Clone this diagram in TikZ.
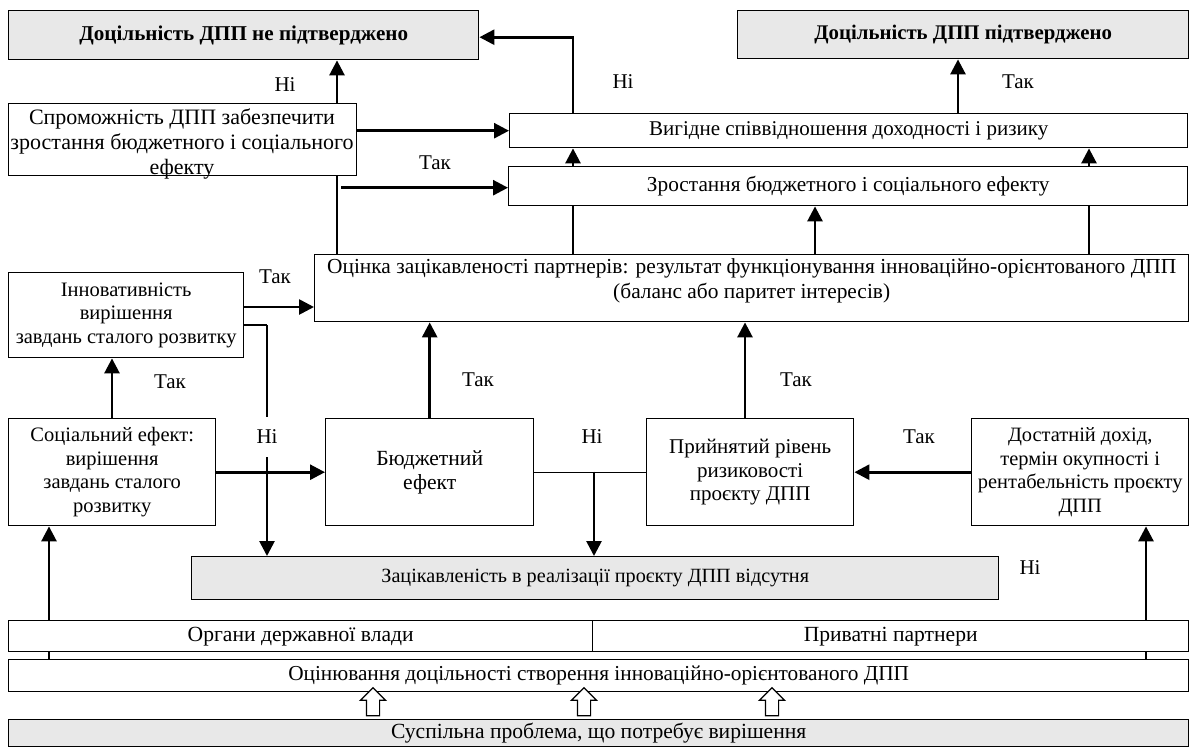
\documentclass[tikz,border=0pt]{standalone}
\usepackage{fontspec}
\setmainfont{Liberation Serif}
\usetikzlibrary{arrows.meta,shapes.arrows,calc}
\definecolor{boxgray}{RGB}{232,232,232}
\begin{document}
\begin{tikzpicture}[x=1pt,y=-1pt,
  font=\fontsize{21.3}{23.7}\selectfont,
  box/.style={draw, line width=1.4pt, inner sep=0pt, align=center, anchor=north west, fill=white},
  gbox/.style={fill=boxgray},
  fsm/.style={font=\fontsize{20.5}{23.7}\selectfont},
  arr/.style={line width=2.7pt, -{Triangle[length=15pt,width=15pt]}},
  ln/.style={line width=2.7pt},
  thinln/.style={line width=1.3pt},
  lbl/.style={inner sep=1pt, font=\fontsize{21}{24}\selectfont},
  harrow/.style={single arrow, draw, line width=1.2pt, fill=white, rotate=90,
    minimum height=28pt, inner xsep=0pt, inner ysep=6pt, single arrow head extend=6pt,
    single arrow head indent=0pt}]
\useasboundingbox (0,0) rectangle (1192,753);
% boxes
\node[box, gbox, minimum width=470pt, minimum height=49pt, font=\fontsize{21.1}{24}\selectfont] (notconf) at (8,10) {\textbf{Доцільність ДПП не підтверджено}};
\node[box, gbox, minimum width=451pt, minimum height=48pt, font=\fontsize{20.8}{24}\selectfont] (conf) at (737,10) {\textbf{Доцільність ДПП підтверджено}};
\node[box, minimum width=348pt, minimum height=72pt] (sprom) at (8,103) {};
\node[align=center, inner sep=0pt, font=\fontsize{22}{25}\selectfont] (spromtxt) at (182,144) {Спроможність ДПП забезпечити\\зростання бюджетного і соціального\\ефекту};
\node[box, minimum width=678pt, minimum height=34pt, font=\fontsize{21}{24}\selectfont] (vyg) at (509,113) {Вигідне співвідношення доходності і ризику};
\node[box, minimum width=679pt, minimum height=39pt] (zrost) at (508,166) {Зростання бюджетного і соціального ефекту};
\node[box, minimum width=874pt, minimum height=67pt, font=\fontsize{21.4}{25}\selectfont, text depth=19pt] (otsin) at (314,254) {Оцінка зацікавленості партнерів: результат функціонування інноваційно-орієнтованого ДПП\\(баланс або паритет інтересів)};
\node[box, fsm, minimum width=235pt, minimum height=85pt] (innov) at (8,272) {Інноватив{}ність\\вирішення\\завдань сталого розвитку};
\node[box, fsm, minimum width=207pt, minimum height=107pt] (social) at (8,418) {Соціальний ефект:\\вирішення\\завдань сталого\\розвитку};
\node[box, minimum width=208pt, minimum height=107pt, font=\fontsize{21.6}{23.7}\selectfont] (budg) at (325,418) {Бюджетний\\ефект};
\node[box, font=\fontsize{21}{23.7}\selectfont, minimum width=207pt, minimum height=107pt] (pryin) at (646,418) {Прийнятий рівень\\ризиковості\\проєкту ДПП};
\node[box, font=\fontsize{20.4}{23.7}\selectfont, minimum width=217pt, minimum height=107pt] (dost) at (971,418) {Достатній дохід,\\термін окупності і\\рентабельність проєкту\\ДПП};
\node[box, gbox, font=\fontsize{20.2}{24}\selectfont, minimum width=807pt, minimum height=43pt] (zatsik) at (191,556) {Зацікавленість в реалізації проєкту ДПП відсутня};
\node[box, font=\fontsize{21.6}{24}\selectfont, minimum width=584pt, minimum height=31pt] (organy) at (8,620) {Органи державної влади};
\node[box, font=\fontsize{21.6}{24}\selectfont, minimum width=596pt, minimum height=31pt] (pryv) at (592,620) {Приватні партнери};
\node[box, minimum width=1180pt, minimum height=32pt] (otsinyuv) at (8,659) {Оцінювання доцільності створення інноваційно-орієнтованого ДПП};
\node[box, gbox, font=\fontsize{21.6}{24}\selectfont, minimum width=1180pt, minimum height=27pt] (susp) at (8,719) {Суспільна проблема, що потребує вирішення};
% hollow arrows
\node[harrow] (h1) at (373,705) {};
\node[harrow] (h2) at (584,705) {};
\node[harrow] (h3) at (772,705) {};
% helper coordinates
\coordinate (xL) at (337,0);
\coordinate (xM) at (573,0);
\coordinate (xC) at (815,0);
\coordinate (xT) at (958,0);
\coordinate (xR) at (1089,0);
\coordinate (xS) at (112,0);
\coordinate (xP) at (745,0);
\coordinate (xO) at (49,0);
\coordinate (xD) at (1146,0);
\coordinate (yI) at (0,307);
\coordinate (nA) at (267,325);
\coordinate (jB) at (594,471.5);
% labels
\node[lbl] (ni1) at (285,85) {Ні};
\node[lbl] (ni2) at (623,82) {Ні};
\node[lbl, minimum height=40pt] (ni3) at (267,437) {Ні};
\node[lbl] (ni4) at (592,437) {Ні};
\node[lbl] (ni5) at (1030,568) {Ні};
\node[lbl] (t1) at (435,163) {Так};
\node[lbl] (t2) at (1018,82) {Так};
\node[lbl] (t3) at (275,277) {Так};
\node[lbl] (t4) at (170,382) {Так};
\node[lbl] (t5) at (478,380) {Так};
\node[lbl] (t6) at (796,380) {Так};
\node[lbl] (t7) at (919,437) {Так};
% connectors
\draw[arr] (sprom.east |- vyg.west) -- (vyg.west);
\draw[ln] (otsin.north -| xL) -- (sprom.south -| xL);
\draw[arr] (sprom.north -| xL) -- (notconf.south -| xL);
\draw[arr] ($(xL |- zrost.west)+(4,1.5)$) -- ($(zrost.west)+(0,1.5)$);
\draw[ln] (otsin.north -| xM) -- (zrost.south -| xM);
\draw[arr] (zrost.north -| xM) -- (vyg.south -| xM);
\draw[ln, -{Triangle[length=15pt,width=15pt]}] (vyg.north -| xM) |- ($(notconf.east)+(0,2)$);
\draw[arr] (otsin.north -| xC) -- (zrost.south -| xC);
\draw[ln] (otsin.north -| xR) -- (zrost.south -| xR);
\draw[arr] (zrost.north -| xR) -- (vyg.south -| xR);
\draw[arr] (vyg.north -| xT) -- (conf.south -| xT);
\draw[arr] (innov.east |- yI) -- (otsin.west |- yI);
\draw[thinln] (innov.east |- nA) -- (nA);
\draw[ln] (nA) -- (ni3.north);
\draw[arr] (ni3.south) -- (zatsik.north -| nA);
\draw[arr] (social.north -| xS) -- (innov.south -| xS);
\draw[arr] (social.east) -- (budg.west);
\draw[arr] (budg.north) -- (otsin.south -| budg.north);
\draw[thinln] (budg.east) -- (pryin.west);
\draw[arr] (jB) -- (zatsik.north -| jB);
\draw[arr] (pryin.north -| xP) -- (otsin.south -| xP);
\draw[arr] (dost.west) -- (pryin.east);
\draw[ln] (otsinyuv.north -| xO) -- (organy.south -| xO);
\draw[arr] (organy.north -| xO) -- (social.south -| xO);
\draw[ln] (otsinyuv.north -| xD) -- (pryv.south -| xD);
\draw[arr] (pryv.north -| xD) -- (dost.south -| xD);
\end{tikzpicture}
\end{document}
